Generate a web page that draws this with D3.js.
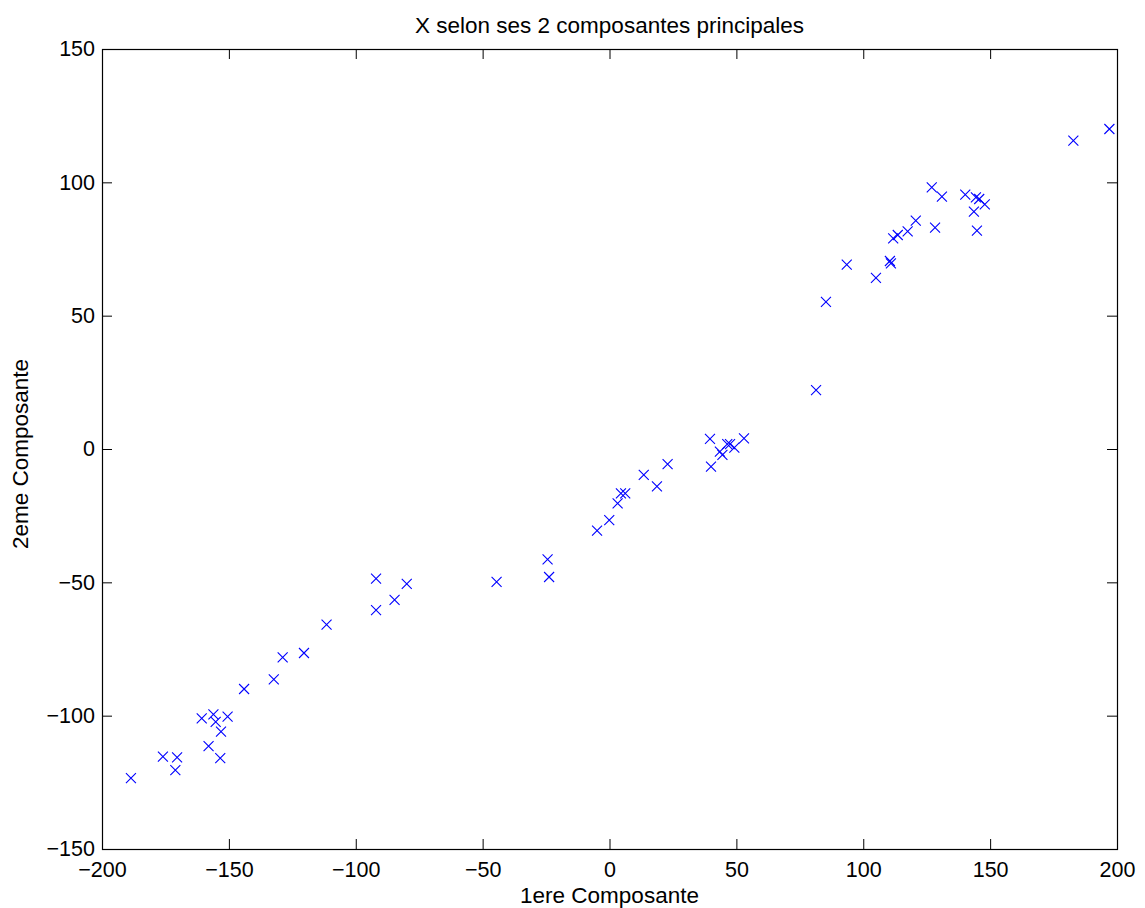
<!DOCTYPE html>
<html>
<head>
<meta charset="utf-8">
<script src="https://cdn.jsdelivr.net/npm/d3@7"></script>
<style>
    body { margin: 0; background: #fff; }
    text { font-family: "Liberation Sans", Arial, sans-serif; }
</style>
</head>
<body>
<div id="chart"></div>
<script>
// 1ere / 2eme composante
const comp1 = [-188.6, -176.0, -170.4, -171.1, -160.7, -156.1, -155.2, -150.5, -153.1, -158.0, -153.4,
    -144.0, -132.3, -128.8, -120.4, -111.5, -92.0, -92.0, -84.7, -79.9, -44.5, -24.4, -23.8,
    -4.9, -0.1, 3.2, 4.5, 6.2, 13.5, 18.7, 22.9, 39.6, 40.0, 43.5, 44.5, 46.4, 47.5, 49.2, 53.0,
    81.4, 85.3, 93.5, 105.0, 110.5, 110.9, 111.8, 113.6, 117.5, 120.7, 127.0, 128.3, 131.0,
    140.2, 143.6, 144.4, 145.7, 144.8, 147.9, 182.8, 197.0];
const comp2 = [-123.4, -115.4, -115.6, -120.4, -101.0, -99.5, -102.3, -100.4, -106.0, -111.4, -115.9,
    -90.0, -86.4, -78.1, -76.5, -65.9, -48.6, -60.4, -56.6, -50.6, -49.8, -41.4, -48.0,
    -30.6, -26.7, -20.4, -16.6, -16.6, -9.7, -14.0, -5.7, 3.8, -6.6, -1.0, -2.2, 1.8, 1.8, 0.5, 4.0,
    22.1, 55.2, 69.1, 64.2, 70.5, 69.6, 79.0, 80.25, 81.6, 85.6, 98.1, 83.0, 94.6,
    95.4, 89.0, 94.4, 93.75, 81.9, 91.75, 115.6, 120.0];

const xTicks = [-200, -150, -100, -50, 0, 50, 100, 150, 200];
const yTicks = [-150, -100, -50, 0, 50, 100, 150];

const W = 1145, H = 908;
const margin = {top: 49, right: 28, bottom: 59, left: 102};
const width = W - margin.left - margin.right;
const height = H - margin.top - margin.bottom;

const svg = d3.select("#chart").append("svg")
    .attr("width", W)
    .attr("height", H);

const g = svg.append("g")
    .attr("transform", `translate(${margin.left},${margin.top})`);

const x = d3.scaleLinear().domain([-200, 200]).range([0, width]);
const y = d3.scaleLinear().domain([-150, 150]).range([height, 0]);

const fmt = d => d < 0 ? "\u2212" + Math.abs(d) : String(d);

// axes, ticks pointing inward like matlab
g.append("g")
    .attr("transform", `translate(0,${height})`)
    .call(d3.axisBottom(x).tickValues(xTicks).tickFormat(fmt).tickSizeInner(-10).tickSizeOuter(0).tickPadding(13));
g.append("g")
    .call(d3.axisTop(x).tickValues(xTicks).tickFormat("").tickSizeInner(-10).tickSizeOuter(0));
g.append("g")
    .call(d3.axisLeft(y).tickValues(yTicks).tickFormat(fmt).tickSizeInner(-10).tickSizeOuter(0).tickPadding(7));
g.append("g")
    .attr("transform", `translate(${width},0)`)
    .call(d3.axisRight(y).tickValues(yTicks).tickFormat("").tickSizeInner(-10).tickSizeOuter(0));

g.selectAll(".domain").remove();
g.selectAll(".tick line").attr("stroke", "#000");
g.selectAll(".tick text")
    .attr("fill", "#000")
    .style("font-size", "21.5px");

g.append("rect")
    .attr("x", 0.5).attr("y", 0.5)
    .attr("width", width).attr("height", height)
    .attr("fill", "none")
    .attr("stroke", "#000")
    .attr("stroke-width", 1.2);

// the points as x markers
const s = 5;
g.append("g").selectAll("path")
    .data(d3.zip(comp1, comp2))
    .join("path")
    .attr("d", d => {
        const cx = x(d[0]), cy = y(d[1]);
        return `M${cx - s},${cy - s}L${cx + s},${cy + s}M${cx - s},${cy + s}L${cx + s},${cy - s}`;
    })
    .attr("stroke", "#0000ff")
    .attr("stroke-width", 1.1)
    .attr("fill", "none");

svg.append("text")
    .attr("x", margin.left + width / 2)
    .attr("y", 33)
    .attr("text-anchor", "middle")
    .style("font-size", "22.5px")
    .text("X selon ses 2 composantes principales");

svg.append("text")
    .attr("x", margin.left + width / 2)
    .attr("y", 903)
    .attr("text-anchor", "middle")
    .style("font-size", "22.5px")
    .text("1ere Composante");

svg.append("text")
    .attr("transform", `translate(28,454) rotate(-90)`)
    .attr("text-anchor", "middle")
    .style("font-size", "22.5px")
    .text("2eme Composante");
</script>
</body>
</html>
